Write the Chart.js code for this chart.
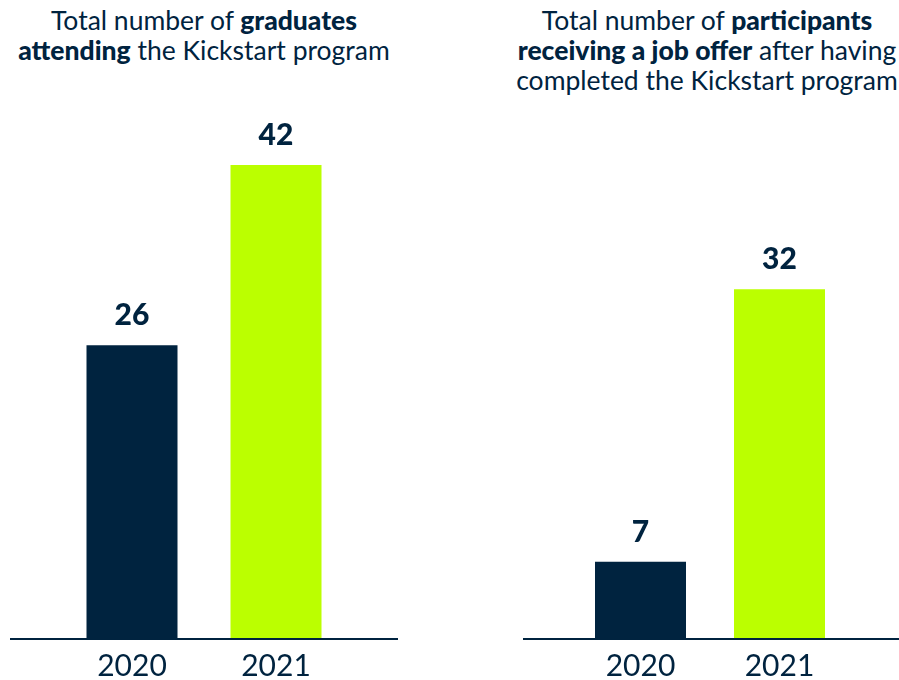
<!DOCTYPE html>
<html>
<head>
<meta charset="utf-8">
<script src="https://cdn.jsdelivr.net/npm/chart.js@4"></script>
<style>
  html, body { margin: 0; padding: 0; background: #fff; overflow: hidden; }
  body { width: 899px; height: 680px; position: relative; font-family: Lato, sans-serif; color: #00233f; }
  .title { position: absolute; top: 5px; width: 440px; text-align: center; font-size: 26.5px; line-height: 30px; white-space: nowrap; }
  .title b { font-weight: 900; }
  .box { position: absolute; top: 0; height: 680px; }
</style>
</head>
<body>
<div class="title" style="left: -16px;">Total number of <b>graduates</b><br><b>attending</b> the Kickstart program</div>
<div class="title" style="left: 487px;">Total number of <b>participants</b><br><b>receiving a job offer</b> after having<br>completed the Kickstart program</div>
<div class="box" style="left: 10px; width: 388px;"><canvas id="left"></canvas></div>
<div class="box" style="left: 523px; width: 376px;"><canvas id="right"></canvas></div>
<script>
const years = ['2020', '2021'];
const graduates = [26, 42];
const jobOffers = [7, 32];
const barColors = ['#00233f', '#bbff00'];
const navy = '#00233f';

// value on top of each bar + axis line across the whole canvas
const barExtras = {
  id: 'barExtras',
  afterDatasetsDraw(chart) {
    const ctx = chart.ctx;
    const meta = chart.getDatasetMeta(0);
    ctx.save();
    ctx.fillStyle = navy;
    ctx.font = '900 30px Lato';
    ctx.textAlign = 'center';
    ctx.textBaseline = 'alphabetic';
    meta.data.forEach((bar, i) => {
      ctx.fillText(chart.data.datasets[0].data[i], bar.x, bar.y - 20);
    });
    ctx.strokeStyle = navy;
    ctx.lineWidth = 2;
    ctx.beginPath();
    ctx.moveTo(0, chart.chartArea.bottom + 1);
    ctx.lineTo(chart.width, chart.chartArea.bottom + 1);
    ctx.stroke();
    ctx.restore();
  }
};

function makeChart(id, values, yMax, pad, barPct) {
  return new Chart(document.getElementById(id), {
    type: 'bar',
    data: {
      labels: years,
      datasets: [{
        data: values,
        backgroundColor: barColors,
        barPercentage: barPct,
        categoryPercentage: 1
      }]
    },
    options: {
      responsive: true,
      maintainAspectRatio: false,
      animation: false,
      layout: { padding: pad },
      plugins: { legend: { display: false }, tooltip: { enabled: false } },
      scales: {
        x: {
          grid: { display: false, drawTicks: false },
          border: { display: false },
          ticks: { color: navy, font: { family: 'Lato', size: 30 }, padding: 10 }
        },
        y: { display: false, min: 0, max: yMax }
      }
    },
    plugins: [barExtras]
  });
}

makeChart('left', graduates, 50, { left: 50, right: 50, top: 75, bottom: -14 }, 91 / 144);
makeChart('right', jobOffers, 50, { left: 48, right: 50, top: 93, bottom: -14 }, 91 / 139);
</script>
</body>
</html>
